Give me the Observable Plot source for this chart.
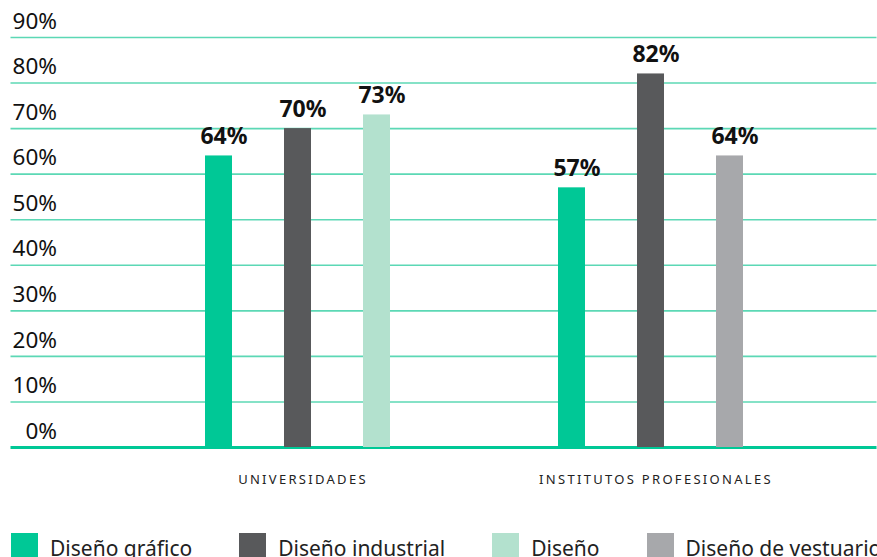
<!DOCTYPE html>
<html>
<head>
<meta charset="utf-8">
<script src="https://cdn.jsdelivr.net/npm/d3@7"></script>
<script src="https://cdn.jsdelivr.net/npm/@observablehq/plot@0.6"></script>
<style>
  html, body { margin: 0; padding: 0; background: #fff; width: 877px; height: 557px; overflow: hidden; }
  #chart svg { display: block; }
  g[aria-label="fx-axis tick label"] text { letter-spacing: 2.3px; }
  #legend { display: flex; flex-wrap: nowrap; white-space: nowrap; padding-left: 11px; margin-top: 33px;
            font-family: "Noto Sans", sans-serif; font-size: 21px; color: #222; line-height: 27px; }
  #legend .item { display: flex; align-items: flex-start; margin-right: 47px; }
  #legend .sw { width: 27px; height: 27px; margin-right: 12px; flex: none; }
  #legend .lb { position: relative; top: 2px; }
</style>
</head>
<body>
<div id="chart"></div>
<div id="legend"></div>
<script>
// ---- data ----
const groups = ["UNIVERSIDADES", "INSTITUTOS PROFESIONALES"];
const seriesUniversidades = ["Diseño gráfico", "Diseño industrial", "Diseño"];
const valuesUniversidades = [64, 70, 73];
const seriesInstitutos = ["Diseño gráfico", "Diseño industrial", "Diseño de vestuario"];
const valuesInstitutos = [57, 82, 64];
const legendSeries = ["Diseño gráfico", "Diseño industrial", "Diseño", "Diseño de vestuario"];
const yTicks = [0, 10, 20, 30, 40, 50, 60, 70, 80, 90];

const palette = ["#00C896", "#58595B", "#B3E1CE", "#A7A8AB"];

const rows = [];
[[seriesUniversidades, valuesUniversidades], [seriesInstitutos, valuesInstitutos]].forEach(([ser, vals], gi) => {
  ser.forEach((s, i) => rows.push({group: groups[gi], slot: String(i + 1), series: s, value: vals[i]}));
});

const font = '"Noto Sans", sans-serif';
const gridTicks = yTicks.filter(d => d > 0);

const chart = Plot.plot({
  width: 877,
  height: 500,
  marginTop: 37,
  marginBottom: 53,
  marginLeft: 9,
  marginRight: 0,
  style: {fontFamily: font, fontSize: "21px", color: "#111", background: "#fff"},
  fx: {domain: groups, paddingInner: 0, paddingOuter: 0.226, align: 0.690625, label: null},
  x: {domain: ["1", "2", "3"], paddingInner: 0.6625, paddingOuter: 1.04375, axis: null},
  y: {domain: [0, 90]},
  color: {domain: legendSeries, range: palette},
  marks: [
    Plot.ruleY(gridTicks, {fx: () => groups[0], stroke: "#5CD8B5", strokeWidth: 1.6, insetLeft: -110.5}),
    Plot.ruleY(gridTicks, {fx: () => groups[1], stroke: "#5CD8B5", strokeWidth: 1.6, insetRight: -49.5}),
    Plot.ruleY([0], {fx: () => groups[0], stroke: "#00C896", strokeWidth: 3, insetLeft: -110.5}),
    Plot.ruleY([0], {fx: () => groups[1], stroke: "#00C896", strokeWidth: 3, insetRight: -49.5}),
    Plot.axisY({ticks: yTicks, tickSize: 0, tickPadding: 64.5, tickFormat: d => d + "%", fontSize: 22.5,
      dy: -16, label: null, fill: "#111"}),
    Plot.barY(rows, {fx: "group", x: "slot", y: "value", fill: "series"}),
    Plot.text(rows, {fx: "group", x: "slot", y: "value", text: d => d.value + "%",
      lineAnchor: "bottom", dy: -12, dx: 5, fontWeight: "bold", fontSize: 23, fill: "#111"}),
    Plot.axisFx({anchor: "bottom", tickSize: 0, tickPadding: 27, fontSize: 13, fill: "#222", label: null, dx: 5})
  ]
});
document.getElementById("chart").appendChild(chart);

const legend = document.getElementById("legend");
legendSeries.forEach((s, i) => {
  const item = document.createElement("div");
  item.className = "item";
  const sw = document.createElement("div");
  sw.className = "sw";
  sw.style.background = palette[i];
  const lb = document.createElement("span");
  lb.className = "lb";
  lb.textContent = s;
  item.appendChild(sw);
  item.appendChild(lb);
  legend.appendChild(item);
});
</script>
</body>
</html>
